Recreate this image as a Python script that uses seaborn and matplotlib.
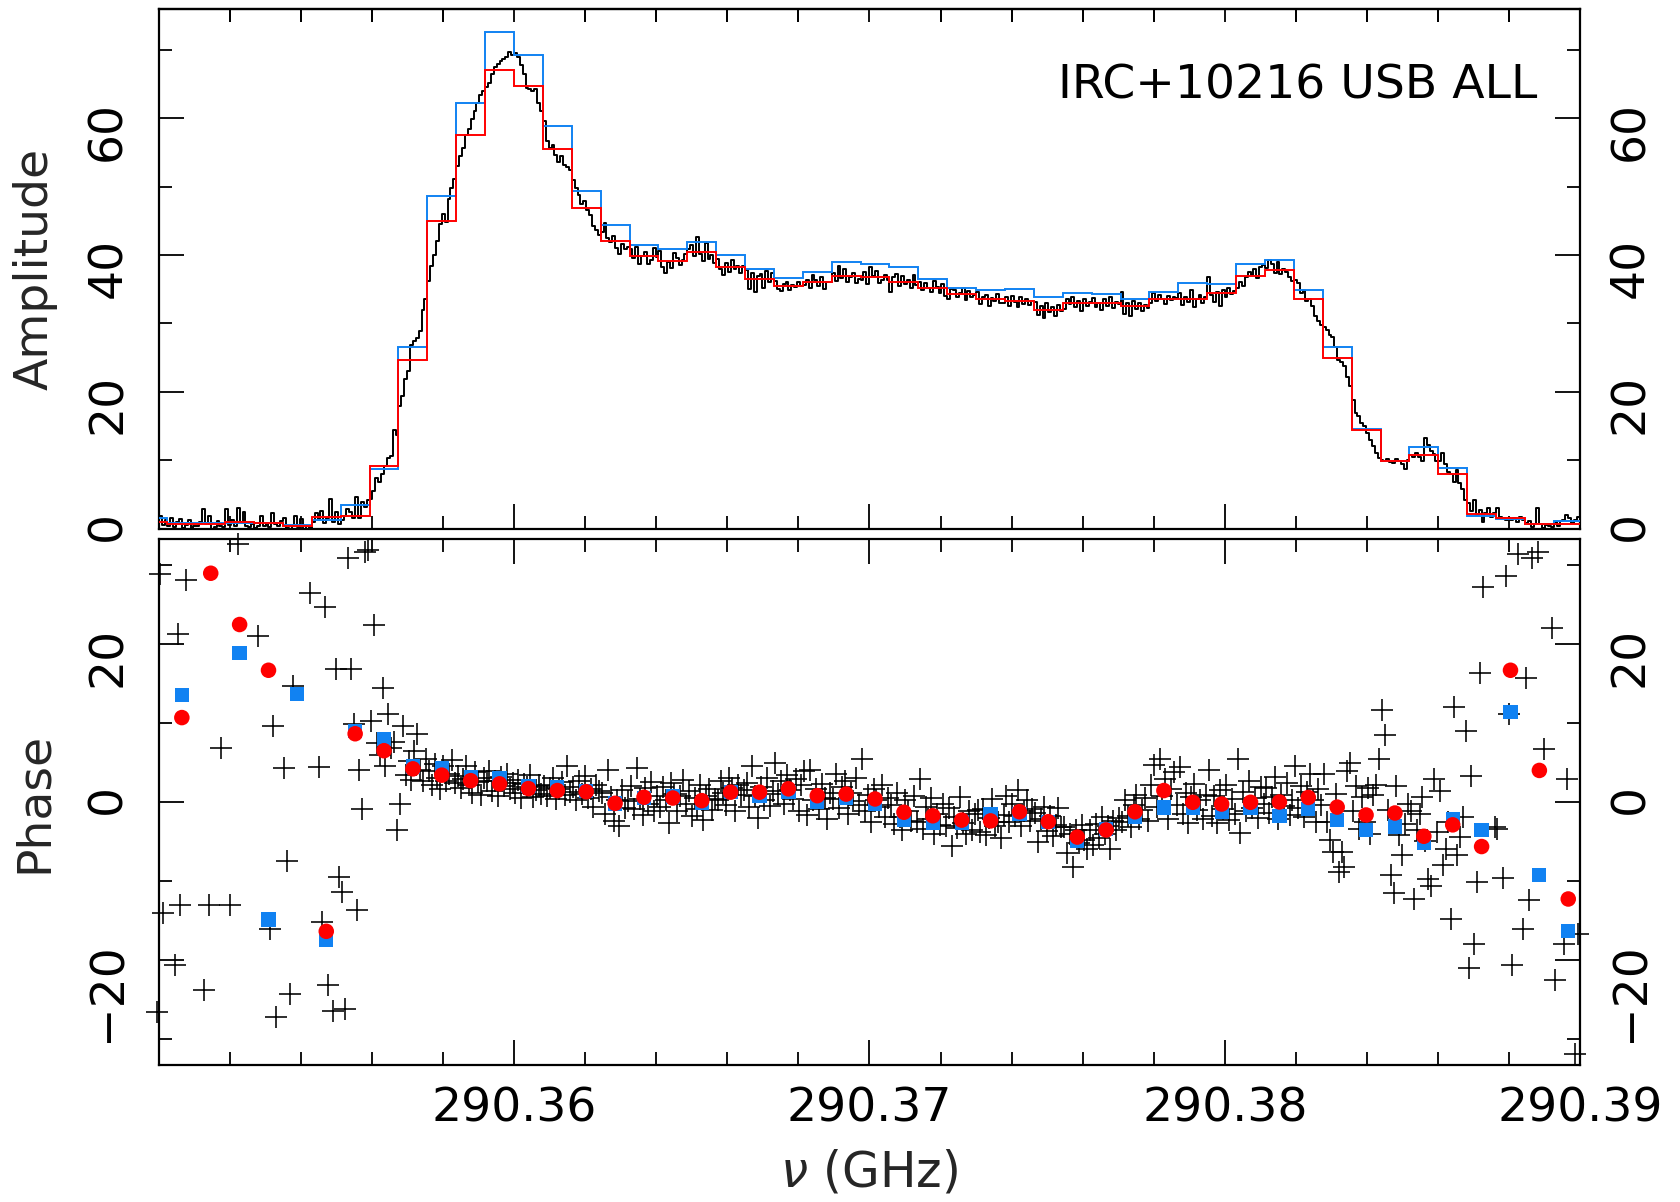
import numpy as np
import matplotlib
matplotlib.use("Agg")
import matplotlib.pyplot as plt
from matplotlib.ticker import MultipleLocator, FixedLocator, FormatStrFormatter, NullFormatter
import seaborn as sns

sns.set_theme(style="ticks")
plt.rcParams["font.family"] = ["DejaVu Sans"]
plt.rcParams["mathtext.fontset"] = "dejavusans"
plt.rcParams["axes.linewidth"] = 1.6

n = np.nan

# Channel grid: 50 coarse channels of 0.8125 MHz, each split into 10 fine channels
FREQ_START = 290.3494375      # GHz, lower edge of the first coarse channel
COARSE_WIDTH = 0.0008125      # GHz
FINE_PER_COARSE = 10

X_TICKS = [290.36, 290.37, 290.38, 290.39]
TITLE = "IRC+10216 USB ALL"

# Coarse-channel amplitudes (two calibrations)
amp_blue = [1.5, 0.85, 0.85, 0.85, 0.85, 0.5, 1.26, 3.4, 8.7, 26.6,
            48.6, 62.2, 72.6, 69.2, 58.9, 49.4, 44.3, 41.4, 40.9, 41.9,
            40.0, 38.0, 36.6, 37.5, 38.9, 38.6, 38.3, 36.5, 35.2, 34.8,
            35.0, 33.8, 34.4, 34.3, 33.6, 34.6, 35.9, 35.8, 38.7, 39.2,
            34.9, 26.5, 14.5, 9.9, 11.9, 8.8, 1.9, 1.4, 0.66, 1.1]
amp_red = [1.0, 0.65, 0.65, 1.0, 0.75, 0.35, 1.66, 1.76, 9.2, 24.7,
           45.0, 57.6, 67.0, 64.7, 55.5, 46.8, 42.0, 39.9, 39.1, 40.4,
           38.2, 36.5, 35.5, 36.0, 36.9, 36.8, 36.1, 35.2, 34.3, 33.5,
           33.2, 32.0, 32.9, 32.9, 32.5, 33.6, 33.6, 34.4, 36.9, 37.8,
           33.5, 25.0, 14.4, 9.9, 10.8, 8.0, 2.1, 1.6, 0.66, 0.66]

# Fine-channel amplitudes, one row per coarse channel
amp_fine = [
    1.2, 0.8, 1.5, 0.6, 1.0, 2.1, 0.7, 1.8, 0.5, 1.3,
    0.3, 1.6, 0.2, 0.9, 1.4, 0.1, 0.5, 1.2, 0.0, 0.3,
    0.4, 0.9, 2.9, 0.6, 1.8, 0.0, 0.2, 1.1, 0.3, 0.2,
    2.8, 0.5, 1.2, 0.3, 3.0, 0.9, 2.4, 0.4, 0.2, 0.6,
    0.1, 0.4, 1.9, 0.3, 0.8, 0.2, 2.2, 0.6, 0.3, 1.1,
    1.6, 0.1, 0.0, 0.4, 1.8, 0.2, 1.4, 0.0, 0.3, 0.1,
    0.9, 2.3, 1.2, 2.6, 0.8, 1.5, 4.3, 1.0, 2.4, 0.7,
    1.2, 1.9, 2.8, 2.4, 1.6, 4.6, 1.5, 3.9, 3.1, 4.2,
    4.3, 5.5, 7.4, 6.8, 8.0, 9.1, 10.3, 10.6, 14.4, 13.6,
    17.9, 19.4, 21.9, 23.1, 26.9, 27.4, 27.9, 28.9, 32.0, 33.5,
    36.2, 38.4, 40.0, 42.0, 44.5, 46.0, 44.8, 48.1, 49.8, 51.1,
    53.0, 54.4, 55.6, 57.6, 58.4, 59.9, 61.1, 62.2, 63.4, 63.9,
    64.6, 65.2, 66.4, 67.4, 67.9, 68.3, 68.7, 68.9, 69.6, 69.2,
    69.5, 68.9, 67.7, 66.4, 64.4, 64.2, 63.9, 64.3, 62.2, 61.1,
    59.6, 56.6, 55.6, 56.1, 54.6, 53.6, 54.4, 53.2, 52.9, 52.4,
    51.0, 49.8, 48.7, 47.5, 47.9, 46.6, 45.8, 44.2, 43.6, 42.9,
    43.3, 44.7, 42.5, 41.9, 42.8, 41.0, 40.2, 41.6, 40.8, 41.2,
    40.8, 39.5, 41.2, 38.7, 39.9, 40.4, 38.6, 39.2, 41.0, 39.7,
    40.5, 38.2, 37.4, 39.0, 38.1, 40.3, 39.6, 38.5, 39.2, 40.2,
    40.9, 41.5, 39.8, 42.6, 40.2, 39.1, 41.7, 39.4, 40.0, 38.8,
    39.4, 38.0, 37.1, 38.8, 37.5, 39.2, 37.9, 38.4, 37.3, 38.4,
    37.8, 35.0, 37.4, 34.6, 36.9, 37.2, 35.1, 37.6, 36.0, 37.4,
    36.2, 35.0, 34.7, 35.8, 36.1, 34.9, 35.6, 35.3, 36.0, 35.4,
    35.6, 36.4, 35.2, 37.0, 36.3, 35.5, 36.8, 35.0, 36.1, 36.1,
    37.3, 36.2, 38.4, 36.6, 37.9, 36.0, 36.8, 37.4, 35.9, 36.5,
    36.4, 37.5, 35.8, 38.2, 36.9, 37.6, 35.9, 36.3, 37.1, 36.3,
    34.6, 36.8, 37.2, 35.5, 36.9, 35.8, 36.4, 35.2, 37.0, 35.6,
    36.0, 34.8, 35.9, 35.1, 34.6, 36.2, 35.3, 34.4, 35.7, 34.0,
    33.6, 35.0, 34.8, 33.9, 34.5, 35.1, 33.4, 34.7, 33.8, 34.2,
    34.6, 32.8, 33.9, 34.1, 32.5, 33.7, 33.2, 34.3, 32.9, 33.0,
    33.8, 32.6, 34.0, 33.1, 32.4, 33.9, 32.8, 33.5, 32.7, 33.2,
    33.1, 31.2, 32.5, 30.8, 32.9, 31.6, 32.4, 31.0, 32.7, 31.8,
    32.1, 33.6, 32.8, 33.9, 32.4, 33.2, 31.8, 33.5, 32.6, 33.1,
    33.7, 32.4, 33.0, 31.9, 33.5, 32.6, 33.8, 32.2, 33.1, 32.8,
    34.6, 31.4, 32.9, 31.0, 33.2, 32.1, 33.0, 31.8, 32.7, 32.3,
    33.0, 34.4, 33.2, 34.1, 33.5, 32.8, 34.0, 33.4, 33.9, 33.7,
    34.5, 32.7, 33.9, 33.1, 34.8, 32.4, 33.6, 34.2, 33.0, 33.8,
    36.8, 34.2, 33.1, 34.6, 32.5, 34.9, 33.8, 35.1, 34.3, 34.7,
    35.1, 36.0, 35.4, 36.8, 37.5, 37.0, 37.9, 36.6, 38.2, 38.5,
    38.1, 39.3, 38.6, 37.4, 38.9, 37.2, 38.0, 37.5, 36.8, 36.2,
    36.4, 35.9, 34.4, 34.8, 33.2, 33.6, 32.5, 31.0, 30.4, 29.8,
    29.5, 29.0, 28.3, 28.0, 26.6, 24.7, 24.4, 23.7, 22.2, 20.8,
    18.8, 16.9, 16.4, 15.4, 15.0, 14.0, 13.0, 12.0, 11.0, 10.3,
    10.0, 9.8, 10.1, 9.7, 9.6, 10.2, 9.9, 9.5, 8.7, 10.0,
    10.8, 10.5, 11.0, 10.4, 9.9, 13.2, 12.2, 11.3, 10.9, 9.9,
    9.8, 11.0, 9.5, 8.3, 8.0, 6.8, 8.5, 6.6, 5.8, 4.2,
    3.7, 2.5, 4.2, 2.0, 2.7, 1.0, 2.2, 3.0, 1.7, 2.2,
    3.0, 1.7, 1.5, 1.3, 1.5, 1.2, 1.5, 1.0, 1.7, 1.3,
    0.8, 1.1, 0.2, 0.6, 3.0, 0.7, 0.1, 0.5, 0.4, 0.2,
    0.9, 0.4, 1.1, 1.3, 2.0, 1.6, 0.8, 1.2, 1.7, 3.3,
]

# Coarse-channel phases (degrees); NaN where the phase falls outside the window
phase_blue = [n, 13.6, n, 18.9, -14.9, 13.7, -17.5, 9.0, 8.0, 4.5,
              4.3, 3.2, 3.0, 2.0, 1.9, 1.35, -0.2, 0.5, 0.7, -0.1,
              1.24, 0.8, 1.3, 0.0, 0.5, -0.2, -2.3, -2.6, -2.6, -1.5,
              -1.5, -2.5, -4.96, -3.4, -1.9, -0.7, -0.7, -1.3, -0.7, -1.8,
              -0.87, -2.3, -3.57, -3.1, -5.2, -2.2, -3.57, 11.4, -9.26, -16.4]
phase_red = [n, 10.7, 29.0, 22.5, 16.7, n, -16.4, 8.65, 6.5, 4.2,
             3.4, 2.7, 2.3, 1.7, 1.45, 1.3, -0.17, 0.6, 0.5, 0.17,
             1.24, 1.24, 1.67, 0.8, 1.0, 0.38, -1.3, -1.75, -2.3, -2.4,
             -1.24, -2.5, -4.45, -3.55, -1.24, 1.45, -0.04, -0.26, -0.04, 0.0,
             0.57, -0.65, -1.65, -1.4, -4.35, -2.9, -5.65, 16.7, 4.0, -12.3]

# Fine-channel phases, one row per coarse channel
phase_fine = [
    n, n, n, n, n, n, -26.6, 28.9, -14.1, n,
    n, n, -20.7, 21.3, -13.0, n, 28.2, n, n, n,
    n, n, -23.9, n, -13.0, n, n, n, 6.9, n,
    n, -13.0, n, n, 32.7, n, n, n, n, n,
    n, 21.1, n, n, n, -16.1, 9.65, -27.2, n, n,
    4.35, -7.5, -24.4, 14.7, n, n, n, n, n, 26.5,
    n, n, 4.4, -15.2, 24.7, -23.2, n, -26.5, 16.9, -9.5,
    -11.4, -26.2, 30.9, 16.9, 9.9, -13.7, 4.0, -0.9, 31.7, 32.0,
    10.3, 22.4, 7.5, 5.9, 14.4, 4.6, 11.1, 6.8, 7.6, -3.5,
    -0.2, 9.6, 3.4, 5.2, 2.8, 6.4, 8.6, 4.1, 2.6, 5.5,
    3.9, 2.1, 4.8, 3.0, 1.6, 4.5, 2.7, 3.6, 5.3, 2.4,
    3.3, 1.8, 2.9, 4.6, 2.2, 1.2, 3.8, 2.5, 0.9, 3.1,
    2.7, 3.9, 1.4, 2.6, 0.8, 3.2, 2.0, 3.6, 1.7, 2.4,
    1.1, 2.8, 0.5, 2.3, 1.9, 3.4, 0.6, 1.5, 2.2, 1.0,
    2.0, 0.7, 1.8, 3.1, 0.4, 1.6, 2.5, 0.9, 4.6, 1.3,
    1.9, 0.2, 2.6, 1.0, 3.3, 0.5, 1.7, -0.6, 2.1, 1.4,
    1.2, -1.5, 4.0, 0.6, -2.4, 0.3, -3.0, 1.5, -0.8, 0.1,
    2.0, -0.9, 4.3, 0.4, -1.6, 1.8, -0.3, 2.5, -1.2, 0.8,
    -0.6, 1.9, 0.3, -2.7, 2.4, 1.0, -1.1, 0.7, 2.8, -0.2,
    1.4, -1.8, 0.5, -0.9, 2.2, -2.3, 0.8, 1.6, -1.0, 0.4,
    0.3, 2.6, 1.1, -0.4, 3.0, 1.8, -1.2, 2.2, 0.9, 1.5,
    2.4, -0.6, 4.5, 0.8, -2.0, 1.9, 0.2, 3.1, -0.5, 1.4,
    5.0, 1.0, 2.7, -0.3, 3.4, 1.5, 0.4, 2.9, -1.1, 2.2,
    3.9, -1.6, 4.0, 0.2, 1.7, -0.9, 2.3, 0.5, -2.2, 1.1,
    0.4, 3.5, -0.8, 1.9, 2.6, -1.5, 1.2, 0.1, 3.0, -0.4,
    5.4, -1.2, 0.9, -2.5, 1.6, 0.3, -0.7, 2.1, -1.9, 0.5,
    -0.4, -2.8, 1.2, -1.9, -3.6, 0.3, -1.1, -2.4, 0.8, -2.6,
    2.9, -3.4, -0.6, -2.2, 0.5, -4.1, -1.5, -2.9, -0.3, -3.1,
    -0.8, -5.6, -1.9, -3.3, 0.6, -2.7, -4.0, -1.2, -3.6, -1.5,
    -1.0, -3.8, -0.9, -4.2, -2.0, 0.4, -3.1, -2.5, -4.6, -1.7,
    0.7, -2.6, -0.3, -1.8, 1.5, -3.0, -1.1, 0.2, -2.4, -0.9,
    -1.4, -5.1, -2.2, -0.6, -3.7, -1.8, -4.3, -2.9, -0.8, -3.2,
    -3.2, -6.5, -4.1, -8.2, -3.6, -5.2, -2.9, -4.8, -6.0, -3.5,
    -5.4, -2.8, -4.6, -1.9, -4.0, -3.1, -5.9, -2.4, -3.5, -2.0,
    -2.6, 0.3, -1.8, -3.2, -0.4, 0.9, -2.1, -1.0, 0.5, -2.4,
    2.1, 4.7, -0.6, 5.5, 0.8, 2.9, -2.2, 1.6, 3.8, -0.4,
    4.4, -1.5, 1.2, -2.7, 0.6, 2.3, -1.0, 0.3, -2.1, 0.9,
    4.0, -1.8, 0.7, -2.7, 1.5, -0.9, 2.2, -2.3, 0.4, -1.5,
    5.5, -3.9, 1.3, -1.2, 2.6, -0.8, 0.5, -2.0, 1.9, -0.3,
    1.8, -1.4, 0.6, 3.2, -2.2, 0.9, -0.5, 2.4, -1.6, 0.3,
    4.6, -0.8, 2.0, -1.9, 1.3, 3.5, 0.2, -2.5, 1.7, -0.4,
    3.5, -2.6, -4.8, -6.3, 1.0, -8.9, -6.3, -8.3, 3.9, 5.0,
    -1.2, 2.0, -3.4, 0.6, -2.5, 1.8, -4.0, 0.9, 2.2, 5.4,
    11.7, 8.5, -1.0, -9.3, -11.6, 2.0, -4.2, -6.7, -2.8, -0.2,
    -1.1, -12.3, -3.6, -1.5, 0.65, -5.0, -9.8, -10.7, 2.9, -3.8,
    1.4, -8.0, -5.9, -2.5, -14.9, 12.1, -6.7, -4.4, -1.9, 9.0,
    -21.0, 3.3, -18.0, -10.1, 16.3, 27.2, n, n, n, -3.2,
    -3.4, n, -9.7, 28.7, 11.1, -20.7, n, 31.5, n, -16.1,
    15.7, -12.4, 30.9, n, 31.7, n, 6.7, n, n, 22.0,
    -22.6, n, n, -18.0, 2.9, n, n, -32.0, -16.7, n,
]

BLUE = "#1182F2"
RED = "#FF0000"

# Frequency grids
n_coarse = len(amp_red)
coarse_edges = FREQ_START + COARSE_WIDTH * np.arange(n_coarse + 1)
coarse_centers = 0.5 * (coarse_edges[:-1] + coarse_edges[1:])
fine_width = COARSE_WIDTH / FINE_PER_COARSE
n_fine = len(amp_fine)
fine_edges = FREQ_START + fine_width * np.arange(n_fine + 1)
fine_centers = 0.5 * (fine_edges[:-1] + fine_edges[1:])

fig = plt.figure(figsize=(16.81, 12.02), dpi=100)
ax_amp = fig.add_axes([0.0943, 0.5603, 0.8459, 0.4325])
ax_ph = fig.add_axes([0.0943, 0.1143, 0.8459, 0.4370])

# --- amplitude spectrum ---
sns.lineplot(x=fine_centers, y=np.array(amp_fine), ax=ax_amp, estimator=None,
             drawstyle="steps-mid", color="black", linewidth=1.4, zorder=2)
ax_amp.stairs(np.array(amp_blue), coarse_edges, baseline=None, color=BLUE,
              linewidth=1.4, zorder=3)
ax_amp.stairs(np.array(amp_red), coarse_edges, baseline=None, color=RED,
              linewidth=1.4, zorder=4)
ax_amp.set_ylim(0, 76)
ax_amp.yaxis.set_major_locator(MultipleLocator(20))
ax_amp.yaxis.set_minor_locator(MultipleLocator(10))
ax_amp.text(0.970, 0.827, TITLE, transform=ax_amp.transAxes, ha="right",
            va="baseline", fontsize=34, color="black")

# --- phase ---
sns.scatterplot(x=fine_centers, y=np.array(phase_fine), ax=ax_ph, marker="+",
                s=250, color="black", edgecolor="black", linewidth=1.15,
                clip_on=False, zorder=2)
sns.scatterplot(x=coarse_centers, y=np.array(phase_blue), ax=ax_ph, marker="s",
                s=105, color=BLUE, edgecolor="none", linewidth=0, zorder=3)
sns.scatterplot(x=coarse_centers, y=np.array(phase_red), ax=ax_ph, marker="o",
                s=125, color=RED, edgecolor="none", linewidth=0, zorder=4)
ax_ph.set_ylim(-33.3, 33.3)
ax_ph.yaxis.set_major_locator(MultipleLocator(20))
ax_ph.yaxis.set_minor_locator(MultipleLocator(10))

for ax in (ax_amp, ax_ph):
    ax.set_xlim(290.35, 290.39)
    ax.xaxis.set_major_locator(FixedLocator(X_TICKS))
    ax.xaxis.set_major_formatter(FormatStrFormatter("%.2f"))
    ax.xaxis.set_minor_locator(MultipleLocator(0.002))
    ax.tick_params(which="both", direction="in", top=True, bottom=True,
                   left=True, right=True, labelleft=True, labelright=True,
                   width=1.3, color="black", labelcolor="black")
    ax.tick_params(which="major", length=18)
    ax.tick_params(which="minor", length=9.5)
    ax.tick_params(axis="y", labelrotation=90, pad=20, labelsize=34)
    ax.tick_params(axis="x", pad=16, labelsize=34)
    for sp in ax.spines.values():
        sp.set_linewidth(1.6)
        sp.set_color("black")
    ax.set_xlabel("")
    ax.set_ylabel("")

ax_amp.tick_params(axis="x", labelbottom=False, top=False)

# short ticks along the top edge of the amplitude panel
top_axis = ax_amp.secondary_xaxis("top")
top_axis.xaxis.set_major_locator(FixedLocator(X_TICKS))
top_axis.xaxis.set_minor_locator(MultipleLocator(0.002))
top_axis.xaxis.set_major_formatter(NullFormatter())
top_axis.tick_params(which="both", direction="in", length=9.5, width=1.3,
                     color="black", labeltop=False)
top_axis.spines["top"].set_linewidth(1.6)

ax_amp.set_ylabel("Amplitude", fontsize=34, rotation=90, va="center", ha="center")
ax_amp.yaxis.set_label_coords(-0.087, 0.5)
ax_ph.set_ylabel("Phase", fontsize=34, rotation=90, va="center", ha="center")
ax_ph.yaxis.set_label_coords(-0.087, 0.5)
ax_ph.set_xlabel(r"$\nu$ (GHz)", fontsize=35, va="center")
ax_ph.xaxis.set_label_coords(0.5, -0.206)

fig.savefig("out.png", dpi=100, facecolor="white")
